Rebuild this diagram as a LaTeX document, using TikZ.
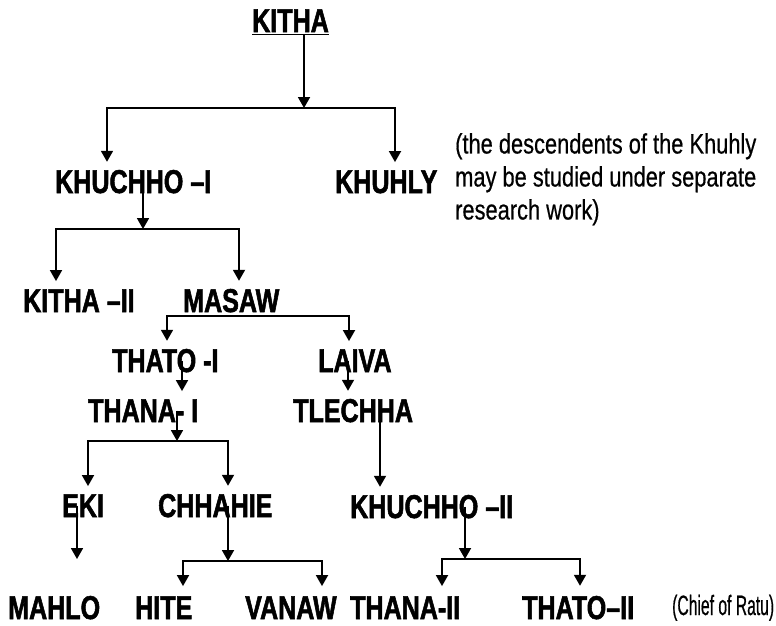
\documentclass[tikz,border=0pt]{standalone}
\usepackage{fontspec}
\setmainfont{Liberation Sans}
\newfontfamily\namefont{Liberation Sans}[FakeStretch=0.76,FakeBold=1.6]
\newfontfamily\notefont{Liberation Sans}[FakeStretch=0.78,FakeBold=0.5]
\newfontfamily\chieffont{Liberation Sans}[FakeStretch=0.56,FakeBold=0.5]
\usetikzlibrary{arrows.meta,calc}
\tikzset{
  nm/.style={font=\namefont\bfseries\fontsize{33}{34}\selectfont,
    inner xsep=0pt,inner ysep=8pt,anchor=base west},
  lastnm/.style={nm,inner ysep=4pt},
  note/.style={font=\notefont\fontsize{28}{33}\selectfont,align=left,
    anchor=north west,inner sep=0pt},
  chief/.style={font=\chieffont\fontsize{28}{30}\selectfont,inner sep=0pt,anchor=base west},
  bar/.style={line width=1.8pt},
  arr/.style={-{Triangle[width=12pt,length=11pt]},line width=1.8pt},
}
\begin{document}
\begin{tikzpicture}[x=1pt,y=-1pt]
  \useasboundingbox (0,0) rectangle (776,625);
  % names of the line
  \node[nm] (kitha) at (252,32) {KITHA};
  \node[nm] (khuI) at (55,193) {KHUCHHO –I};
  \node[nm] (khuhly) at (335,193) {KHUHLY};
  \node[nm] (kithaII) at (23,312) {KITHA –II};
  \node[nm] (masaw) at (183,312) {MASAW};
  \node[nm] (thatoI) at (112,372) {THATO -I};
  \node[nm] (laiva) at (318,372) {LAIVA};
  \node[nm] (thanaI) at (88,422) {THANA- I};
  \node[nm] (tlechha) at (293,422) {TLECHHA};
  \node[nm] (eki) at (62,517) {EKI};
  \node[nm] (chhahie) at (158,517) {CHHAHIE};
  \node[nm] (khuII) at (350,518) {KHUCHHO –II};
  \node[lastnm] (mahlo) at (8,619) {MAHLO};
  \node[lastnm] (hite) at (135,619) {HITE};
  \node[lastnm] (vanaw) at (245,619) {VANAW};
  \node[lastnm] (thanaII) at (350,619) {THANA-II};
  \node[lastnm] (thatoII) at (522,619) {THATO–II};
  \node[chief] (ratu) at (672,615) {(Chief of Ratu)};
  \node[note] (khnote) at (455,133) {(the descendents of the Khuhly\\may be studied under separate\\research work)};
  \draw[bar] ([yshift=-2.5pt]kitha.base west) -- ([yshift=-2.5pt]kitha.base east); % underline

  % junctions and bar ends
  \coordinate (j1) at (304,108); \coordinate (k1a) at (107,108); \coordinate (k1b) at (395,108);
  \coordinate (j2) at (143,229); \coordinate (k2a) at (56,229);  \coordinate (k2b) at (239,229);
  \coordinate (j3) at (233,316); \coordinate (k3a) at (167,316); \coordinate (k3b) at (349,316);
  \coordinate (j4) at (177,441); \coordinate (k4a) at (88,441);  \coordinate (k4b) at (228,441);
  \coordinate (j5) at (228,561); \coordinate (k5a) at (183,561); \coordinate (k5b) at (322,561);
  \coordinate (j6) at (465,559); \coordinate (k6a) at (442,559); \coordinate (k6b) at (580,559);
  % single descents
  \coordinate (s1) at (182,390); \coordinate (s2) at (348,390);
  \coordinate (s3) at (380,483); \coordinate (s4) at (77,559);

  \draw[arr] ([yshift=-3pt]kitha.base -| j1) -- (j1);
  \draw[arr] (j1) -| (k1a |- khuI.north);
  \draw[arr] (j1) -| (k1b |- khuhly.north);

  \draw[arr] (khuI.center -| j2) -- (j2);
  \draw[arr] (j2) -| (k2a |- kithaII.north);
  \draw[arr] (j2) -| (k2b |- masaw.north);

  \draw[arr] (j3) -| (k3a |- thatoI.north);
  \draw[arr] (j3) -| (k3b |- laiva.north);

  \draw[arr] (thatoI.center -| s1) -- (s1 |- thanaI.north);
  \draw[arr] (laiva.center -| s2) -- (s2 |- tlechha.north);

  \draw[arr] (thanaI.center -| j4) -- (j4);
  \draw[arr] (j4) -| (k4a |- eki.north);
  \draw[arr] (j4) -| (k4b |- chhahie.north);

  \draw[arr] (tlechha.center -| s3) -- (s3 |- khuII.north);
  \draw[arr] (eki.center -| s4) -- (s4);

  \draw[arr] (chhahie.center -| j5) -- (j5);
  \draw[arr,shorten >=6pt] (j5) -| (k5a |- hite.north);
  \draw[arr,shorten >=6pt] (j5) -| (k5b |- vanaw.north);

  \draw[arr] (khuII.center -| j6) -- (j6);
  \draw[arr,shorten >=6pt] (j6) -| (k6a |- thanaII.north);
  \draw[arr,shorten >=6pt] (j6) -| (k6b |- thatoII.north);
\end{tikzpicture}
\end{document}
